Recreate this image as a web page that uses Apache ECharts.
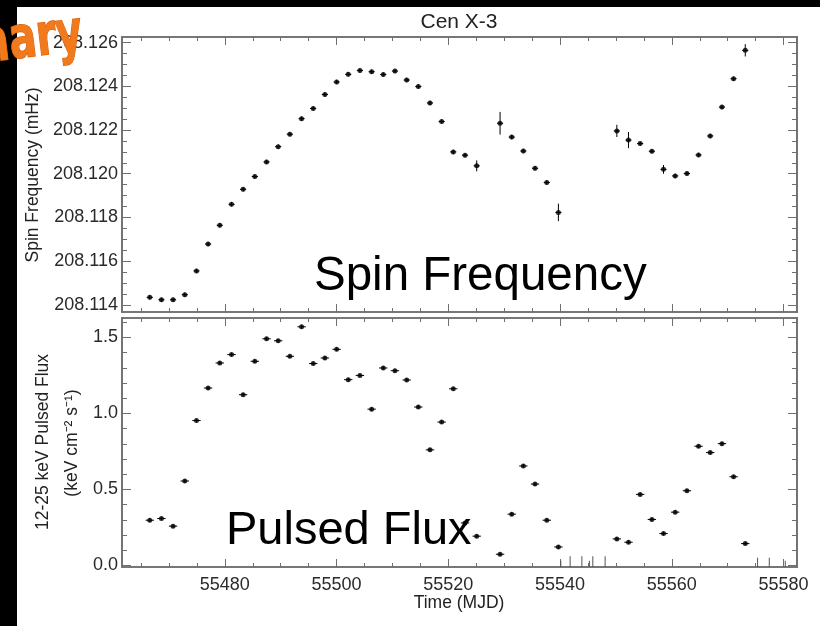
<!DOCTYPE html>
<html>
<head>
<meta charset="utf-8">
<script src="https://cdn.jsdelivr.net/npm/echarts@6/dist/echarts.min.js"></script>
<style>html,body{margin:0;padding:0;background:#fff;}#c{width:820px;height:626px;}</style>
</head>
<body>
<div id="c"></div>
<script>
// ---- data ----
const times = [55466.57, 55468.66, 55470.74, 55472.84, 55474.93, 55477.01, 55479.10, 55481.20, 55483.28, 55485.37,
  55487.47, 55489.55, 55491.64, 55493.74, 55495.82, 55497.91, 55500.01, 55502.09, 55504.18, 55506.28,
  55508.36, 55510.45, 55512.55, 55514.63, 55516.72, 55518.81, 55520.89, 55522.99, 55525.08,
  55529.26, 55531.35, 55533.43, 55535.52, 55537.62, 55539.70,
  55550.16, 55552.24, 55554.33, 55556.43, 55558.51, 55560.60, 55562.70, 55564.78, 55566.87, 55568.97, 55571.05, 55573.14];
const freq = [208.11434, 208.11423, 208.11423, 208.11446, 208.11555, 208.11678, 208.11764, 208.11860, 208.11929, 208.11987,
  208.12054, 208.12124, 208.12181, 208.12252, 208.12299, 208.12363, 208.12420, 208.12455, 208.12473, 208.12467,
  208.12454, 208.12470, 208.12429, 208.12399, 208.12324, 208.12239, 208.12100, 208.12085, 208.12036,
  208.12231, 208.12168, 208.12104, 208.12025, 208.11960, 208.11823,
  208.12196, 208.12154, 208.12138, 208.12103, 208.12020, 208.11990, 208.12001, 208.12086, 208.12173, 208.12305, 208.12435, 208.12565];
const freqErr = [0.0001, 0.0001, 0.0001, 0.0001, 0.0001, 0.0001, 0.0001, 0.0001, 0.0001, 0.0001,
  0.0001, 0.0001, 0.0001, 0.0001, 0.0001, 0.0001, 0.0001, 0.0001, 0.0001, 0.0001,
  0.0001, 0.0001, 0.0001, 0.0001, 0.0001, 0.0001, 0.0001, 0.0001, 0.00025,
  0.00052, 0.0001, 0.0001, 0.0001, 0.0001, 0.0004,
  0.00028, 0.00037, 0.0001, 0.0001, 0.0002, 0.0001, 0.0001, 0.0001, 0.0001, 0.0001, 0.0001, 0.00028];
const flux = [0.297, 0.308, 0.258, 0.555, 0.953, 1.167, 1.332, 1.387, 1.123, 1.343,
  1.491, 1.478, 1.376, 1.570, 1.328, 1.365, 1.422, 1.222, 1.250, 1.028,
  1.299, 1.281, 1.220, 1.042, 0.760, 0.943, 1.162, 0.279, 0.192,
  0.073, 0.337, 0.654, 0.535, 0.297, 0.121,
  0.174, 0.152, 0.467, 0.302, 0.209, 0.350, 0.491, 0.784, 0.742, 0.801, 0.583, 0.143];
const fluxErr = 0.012;
const ulTimes = [55540.13, 55541.8, 55543.9, 55545.25, 55545.86, 55548.06, 55575.34, 55577.44, 55580.3];
const ulTop = [0.03, 0.06, 0.06, 0.03, 0.06, 0.06, 0.05, 0.05, 0.03];

const xTicks = [55480, 55500, 55520, 55540, 55560, 55580];
const freqTicks = [208.114, 208.116, 208.118, 208.120, 208.122, 208.124, 208.126];
const fluxTicks = [0.0, 0.5, 1.0, 1.5];

const XMIN = 55461.6, XMAX = 55582.4;
const F_MIN = 208.11367, F_MAX = 208.12626;
const P_MIN = -0.011, P_MAX = 1.628;

function range(a, b, step, dec) { const out = []; for (let k = 0; a + k * step <= b + 1e-9; k++) out.push(+(a + k * step).toFixed(dec)); return out; }
const xMinor = range(55465, 55580, 5, 0);
const freqMinor = range(208.114, 208.126, 0.0005, 4);
const fluxMinor = range(0, 1.6, 0.1, 1);

const FONT = '"Liberation Sans", Arial, sans-serif';
const AX = '#6f6f6f';

function xAx(grid, pos, ticks, len, labels) {
  return {
    type: 'value', gridIndex: grid, position: pos, min: XMIN, max: XMAX,
    axisLine: { show: true, onZero: false, lineStyle: { color: AX, width: 1.6 } },
    axisTick: { show: true, inside: true, length: len, customValues: ticks, lineStyle: { color: AX, width: 1 } },
    axisLabel: labels ? { show: true, customValues: xTicks, margin: 9, fontSize: 18, fontFamily: FONT, color: '#2a2a2a', formatter: v => String(Math.round(v)) } : { show: false },
    splitLine: { show: false }
  };
}
function yAx(grid, pos, min, max, ticks, len, labelVals, dec) {
  return {
    type: 'value', gridIndex: grid, position: pos, min: min, max: max,
    axisLine: { show: true, onZero: false, lineStyle: { color: AX, width: 1.6 } },
    axisTick: { show: true, inside: true, length: len, customValues: ticks, lineStyle: { color: AX, width: 1 } },
    axisLabel: labelVals ? { show: true, customValues: labelVals, margin: 4, fontSize: 18, fontFamily: FONT, color: '#2a2a2a', formatter: v => v.toFixed(dec) } : { show: false },
    splitLine: { show: false }
  };
}

const xAxes = [], yAxes = [];
[0, 1].forEach(g => {
  xAxes.push(xAx(g, 'bottom', xTicks, 8, g === 1));
  xAxes.push(xAx(g, 'bottom', xMinor, 4, false));
  xAxes.push(xAx(g, 'top', xTicks, 8, false));
  xAxes.push(xAx(g, 'top', xMinor, 4, false));
});
yAxes.push(yAx(0, 'left', F_MIN, F_MAX, freqTicks, 9, freqTicks, 3));
yAxes.push(yAx(0, 'left', F_MIN, F_MAX, freqMinor, 5, null));
yAxes.push(yAx(0, 'right', F_MIN, F_MAX, freqTicks, 9, null));
yAxes.push(yAx(0, 'right', F_MIN, F_MAX, freqMinor, 5, null));
yAxes.push(yAx(1, 'left', P_MIN, P_MAX, fluxTicks, 9, fluxTicks, 1));
yAxes.push(yAx(1, 'left', P_MIN, P_MAX, fluxMinor, 5, null));
yAxes.push(yAx(1, 'right', P_MIN, P_MAX, fluxTicks, 9, null));
yAxes.push(yAx(1, 'right', P_MIN, P_MAX, fluxMinor, 5, null));

function errRender(hw) {
  return function (params, api) {
    const t = api.value(0), v = api.value(1), e = api.value(2);
    const a = api.coord([t, v - e]), b = api.coord([t, v + e]);
    const c = api.coord([t - hw, v]), d = api.coord([t + hw, v]);
    return { type: 'group', children: [
      { type: 'line', shape: { x1: a[0], y1: a[1], x2: b[0], y2: b[1] }, style: { stroke: '#000', lineWidth: 1 } },
      { type: 'line', shape: { x1: c[0], y1: c[1], x2: d[0], y2: d[1] }, style: { stroke: '#000', lineWidth: 1 } }
    ] };
  };
}

const chart = echarts.init(document.getElementById('c'), null, { renderer: 'canvas' });
chart.setOption({
  animation: false,
  backgroundColor: '#ffffff',
  grid: [
    { left: 122, top: 37, width: 675, height: 275 },
    { left: 122, top: 318, width: 675, height: 249 }
  ],
  xAxis: xAxes,
  yAxis: yAxes,
  series: [
    { type: 'custom', xAxisIndex: 0, yAxisIndex: 0, renderItem: errRender(0.55),
      data: times.map((t, i) => [t, freq[i], freqErr[i]]), z: 3 },
    { type: 'scatter', xAxisIndex: 0, yAxisIndex: 0, symbol: 'circle', symbolSize: 5,
      itemStyle: { color: '#000' }, data: times.map((t, i) => [t, freq[i]]), z: 4 },
    { type: 'custom', xAxisIndex: 4, yAxisIndex: 4, renderItem: errRender(0.75),
      data: times.map((t, i) => [t, flux[i], fluxErr]), z: 3 },
    { type: 'scatter', xAxisIndex: 4, yAxisIndex: 4, symbol: 'circle', symbolSize: 5,
      itemStyle: { color: '#000' }, data: times.map((t, i) => [t, flux[i]]), z: 4 },
    { type: 'custom', xAxisIndex: 4, yAxisIndex: 4,
      renderItem: function (params, api) {
        const t = api.value(0), v = api.value(1);
        const a = api.coord([t, P_MIN]), b = api.coord([t, v]);
        return { type: 'line', shape: { x1: a[0], y1: a[1], x2: b[0], y2: b[1] }, style: { stroke: '#555', lineWidth: 1 } };
      },
      data: ulTimes.map((t, i) => [t, ulTop[i]]), z: 3 }
  ],
  graphic: [
    { type: 'rect', shape: { x: 0, y: 0, width: 820, height: 7 }, style: { fill: '#000' }, z: 50 },
    { type: 'rect', shape: { x: 0, y: 0, width: 17, height: 626 }, style: { fill: '#000' }, z: 50 },
    { type: 'text', x: 459, y: 22, z: 60, style: { text: 'Cen X-3', font: '21px ' + FONT, fill: '#222', textAlign: 'center', textVerticalAlign: 'middle' } },
    { type: 'text', x: 33, y: 175, rotation: Math.PI / 2, z: 60, style: { text: 'Spin Frequency (mHz)', font: '17.5px ' + FONT, fill: '#222', textAlign: 'center', textVerticalAlign: 'middle' } },
    { type: 'text', x: 43, y: 442, rotation: Math.PI / 2, z: 60, style: { text: '12-25 keV Pulsed Flux', font: '17.5px ' + FONT, fill: '#222', textAlign: 'center', textVerticalAlign: 'middle' } },
    { type: 'text', x: 72, y: 443, rotation: Math.PI / 2, z: 60, style: { text: '(keV cm\u207B\u00B2 s\u207B\u00B9)', font: '17.5px ' + FONT, fill: '#222', textAlign: 'center', textVerticalAlign: 'middle' } },
    { type: 'text', x: 459, y: 603, z: 60, style: { text: 'Time (MJD)', font: '17.5px ' + FONT, fill: '#222', textAlign: 'center', textVerticalAlign: 'middle' } },
    { type: 'text', x: 314, y: 301, z: 60, style: { text: 'Spin Frequency', font: '47.5px ' + FONT, fill: '#000', textAlign: 'left', textVerticalAlign: 'bottom' } },
    { type: 'text', x: 226, y: 555, z: 60, style: { text: 'Pulsed Flux', font: '47px ' + FONT, fill: '#000', textAlign: 'left', textVerticalAlign: 'bottom' } },
    { type: 'text', x: 86, y: 64, rotation: 0.12, scaleY: 1.3, z: 70, style: { text: 'mary', font: 'bold 45px "Liberation Sans Narrow", "DejaVu Sans Condensed", sans-serif', fill: '#f07a1c', stroke: '#d9600c', lineWidth: 1, textAlign: 'right', textVerticalAlign: 'bottom' } }
  ]
});
</script>
</body>
</html>
